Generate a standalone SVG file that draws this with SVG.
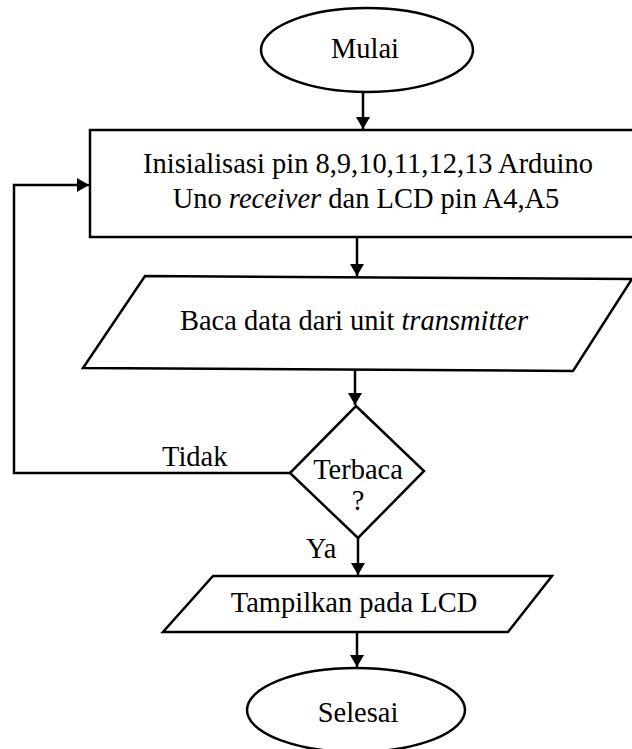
<svg xmlns="http://www.w3.org/2000/svg" width="632" height="749" viewBox="0 0 632 749">
<style>
.s{fill:#fff;stroke:#000;stroke-width:2.5}
.c{fill:none;stroke:#000;stroke-width:2.5}
text{font-family:"Liberation Serif","Times New Roman",serif;font-size:30px;fill:#000}
.m{text-anchor:middle}
</style>
<defs>
<marker id="ah" viewBox="0 0 12 14" refX="12" refY="7" markerWidth="12" markerHeight="14" markerUnits="userSpaceOnUse" orient="auto">
<path d="M0,0 L12,7 L0,14 Z" fill="#000"/>
</marker>
</defs>
<rect width="632" height="749" fill="#fff"/>
<g id="connectors">
<line class="c" x1="363" y1="92" x2="363" y2="129" marker-end="url(#ah)"/>
<line class="c" x1="357" y1="237" x2="357" y2="276" marker-end="url(#ah)"/>
<line class="c" x1="355" y1="370" x2="355" y2="405" marker-end="url(#ah)"/>
<line class="c" x1="358" y1="538" x2="358" y2="575" marker-end="url(#ah)"/>
<line class="c" x1="357" y1="632" x2="357" y2="667" marker-end="url(#ah)"/>
<polyline class="c" points="290,473 14,473 14,185 89,185" marker-end="url(#ah)"/>
<text transform="translate(162,466) scale(0.95,1)">Tidak</text>
<text transform="translate(306,558) scale(0.95,1)">Ya</text>
</g>
<g id="mulai">
<ellipse class="s" cx="367" cy="50" rx="106" ry="42"/>
<text class="m" transform="translate(365,58) scale(0.95,1)">Mulai</text>
</g>
<g id="init">
<rect class="s" x="90" y="130" width="548" height="107"/>
<text class="m" transform="translate(368,173) scale(0.95,1)">Inisialisasi pin 8,9,10,11,12,13 Arduino</text>
<text class="m" transform="translate(366,208) scale(0.95,1)">Uno <tspan font-style="italic">receiver</tspan> dan LCD pin A4,A5</text>
</g>
<g id="baca">
<polygon class="s" points="145,276 632,279 573,371 83,368"/>
<text class="m" transform="translate(354,330) scale(0.95,1)">Baca data dari unit <tspan font-style="italic">transmitter</tspan></text>
</g>
<g id="terbaca">
<polygon class="s" points="356,406 424,471 358,538 290,473"/>
<text class="m" transform="translate(358,479) scale(0.95,1)">Terbaca</text>
<text class="m" transform="translate(358,510) scale(0.95,1)">?</text>
</g>
<g id="tampilkan">
<polygon class="s" points="213,576 552,576 508,632 163,632"/>
<text class="m" transform="translate(354,612) scale(0.95,1)">Tampilkan pada LCD</text>
</g>
<g id="selesai">
<ellipse class="s" cx="356" cy="710" rx="109" ry="42"/>
<text class="m" transform="translate(358,722) scale(0.95,1)">Selesai</text>
</g>
</svg>
